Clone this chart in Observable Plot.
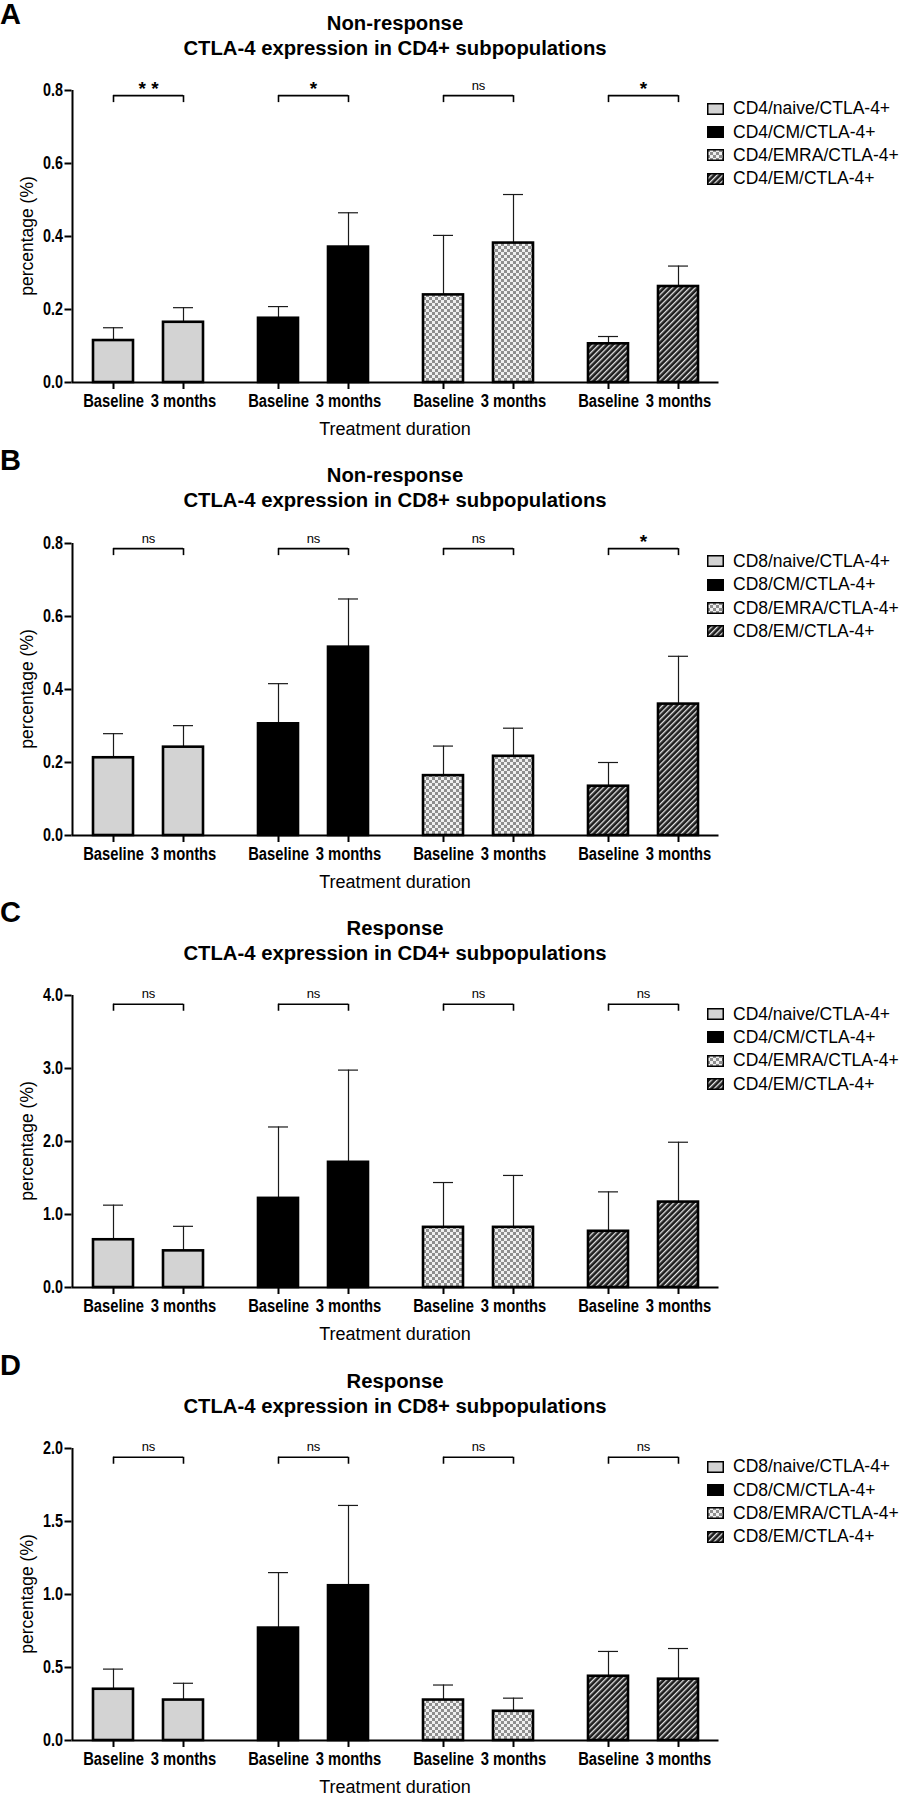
<!DOCTYPE html>
<html>
<head>
<meta charset="utf-8">
<script src="https://cdn.jsdelivr.net/npm/d3@7"></script>
<script src="https://cdn.jsdelivr.net/npm/@observablehq/plot@0.6"></script>
<style>
  html, body { margin: 0; padding: 0; background: #fff; }
  body { width: 907px; height: 1796px; position: relative; overflow: hidden;
         font-family: 'Liberation Sans', Arial, Helvetica, sans-serif; color: #000; }
  .panel { position: absolute; left: 0; width: 907px; height: 453px; }
  .letter { position: absolute; left: 0; font-weight: bold; font-size: 29px; line-height: 29px; }
  .title { position: absolute; left: 0; width: 790px; top: 10.5px; text-align: center;
           font-weight: bold; font-size: 20.3px; line-height: 25px; white-space: nowrap; }
  .xlabel { position: absolute; left: 0; width: 790px; top: 418px; text-align: center;
            font-size: 18px; line-height: 22px; }
  .ylabel { position: absolute; left: -73px; top: 226px; width: 200px; text-align: center;
            font-size: 17.5px; line-height: 20px; transform: rotate(-90deg); white-space: nowrap; }
  .plotwrap { position: absolute; left: 0; top: 60px; }
  .legend { position: absolute; left: 707px; top: 0; }
  .lrow { position: absolute; left: 0; height: 22px; white-space: nowrap; }
  .lrow svg { position: absolute; left: 0; top: 5.5px; }
  .lrow span { position: absolute; left: 26px; top: 0; font-size: 17.5px; line-height: 22px; }
  svg [aria-label="y-axis tick"] path { stroke-width: 2px; }
</style>
</head>
<body>
<svg width="0" height="0" style="position:absolute">
  <defs>
    <pattern id="pNaive" width="4" height="4" patternUnits="userSpaceOnUse">
      <rect width="4" height="4" fill="#d3d3d3"/>
    </pattern>
    <pattern id="pChecker" width="6" height="6" patternUnits="userSpaceOnUse">
      <rect width="6" height="6" fill="#f0f0f0"/>
      <rect width="3" height="3" fill="#8e8e8e"/>
      <rect x="3" y="3" width="3" height="3" fill="#8e8e8e"/>
    </pattern>
    <pattern id="pHatch" width="4" height="4" patternUnits="userSpaceOnUse" patternTransform="rotate(45)">
      <rect width="4" height="4" fill="#1e1e1e"/>
      <rect x="0" y="0" width="1.3" height="4" fill="#e6e6e6"/>
    </pattern>
  </defs>
</svg>
<script>
// ---------------- data ----------------
const groups = ["naive", "CM", "EMRA", "EM"];
const times = ["Baseline", "3 months"];
const groupFills = ["url(#pNaive)", "#000000", "url(#pChecker)", "url(#pHatch)"];

const panelLetters = ["A", "B", "C", "D"];
const panelTitles = ["Non-response", "Non-response", "Response", "Response"];
const panelSubtitles = [
  "CTLA-4 expression in CD4+ subpopulations",
  "CTLA-4 expression in CD8+ subpopulations",
  "CTLA-4 expression in CD4+ subpopulations",
  "CTLA-4 expression in CD8+ subpopulations"
];
const cellTypes = ["CD4", "CD8", "CD4", "CD8"];
const yMax = [0.8, 0.8, 4.0, 2.0];
const yTicks = [
  [0, 0.2, 0.4, 0.6, 0.8],
  [0, 0.2, 0.4, 0.6, 0.8],
  [0, 1, 2, 3, 4],
  [0, 0.5, 1, 1.5, 2]
];
const yLabel = "percentage (%)";
const xLabel = "Treatment duration";

// means per panel, order: naive, CM, EMRA, EM
const meanBaseline = [
  [0.115, 0.176, 0.240, 0.106],
  [0.213, 0.306, 0.164, 0.135],
  [0.654, 1.221, 0.824, 0.770],
  [0.351, 0.770, 0.277, 0.440]
];
const mean3Months = [
  [0.165, 0.371, 0.382, 0.263],
  [0.242, 0.516, 0.217, 0.360],
  [0.502, 1.715, 0.824, 1.170],
  [0.277, 1.060, 0.200, 0.420]
];
// standard deviations (upper error bar length)
const sdBaseline = [
  [0.035, 0.032, 0.163, 0.020],
  [0.066, 0.110, 0.081, 0.065],
  [0.474, 0.978, 0.614, 0.540],
  [0.138, 0.380, 0.103, 0.170]
];
const sd3Months = [
  [0.040, 0.094, 0.133, 0.056],
  [0.059, 0.132, 0.077, 0.131],
  [0.336, 1.263, 0.711, 0.820],
  [0.115, 0.550, 0.090, 0.210]
];
const significance = [
  ["**", "*", "ns", "*"],
  ["ns", "ns", "ns", "*"],
  ["ns", "ns", "ns", "ns"],
  ["ns", "ns", "ns", "ns"]
];
const bracketLevel = [0.786, 0.786, 3.88, 1.94];

// ---------------- layout ----------------
const W = 907, ML = 71.5, MR = 907 - 718.5, MT = 30, PH = 292, MB = 60;
const H = MT + PH + MB;
const padInner = 0.0788;
const step = (W - ML - MR) / (groups.length - padInner);
const bw = step * (1 - padInner);      // width of one group band
const off = 35;                        // bar centre offset from band centre
const barW = 40, capW = 20, drop = 7;
const panelStride = 452.7;
const NARROW_FACTOR = 0.82;            // emulate a condensed (narrow) bold face
const BOLD = "'Liberation Sans', Arial, Helvetica, sans-serif";
const SANS = "'Liberation Sans', Arial, Helvetica, sans-serif";

function condense(nodes) {
  nodes.forEach(t => {
    const w = t.getComputedTextLength();
    if (w > 0) {
      t.setAttribute("textLength", (w * NARROW_FACTOR).toFixed(2));
      t.setAttribute("lengthAdjust", "spacingAndGlyphs");
    }
  });
}

function makePanel(p) {
  const panel = document.createElement("div");
  panel.className = "panel";
  panel.style.top = (p * panelStride) + "px";
  document.body.appendChild(panel);

  const letter = document.createElement("div");
  letter.className = "letter";
  letter.style.top = (p === 0 ? 0 : -7) + "px";
  letter.textContent = panelLetters[p];
  panel.appendChild(letter);

  const title = document.createElement("div");
  title.className = "title";
  title.innerHTML = panelTitles[p] + "<br>" + panelSubtitles[p];
  panel.appendChild(title);

  const rows = [];
  groups.forEach((g, gi) => {
    rows.push({group: g, time: times[0], mean: meanBaseline[p][gi], sd: sdBaseline[p][gi]});
    rows.push({group: g, time: times[1], mean: mean3Months[p][gi], sd: sd3Months[p][gi]});
  });
  const base = rows.filter(d => d.time === times[0]);
  const late = rows.filter(d => d.time === times[1]);
  const brackets = groups.map((g, gi) => ({group: g, sig: significance[p][gi], lvl: bracketLevel[p]}));

  const marks = [];
  for (const [subset, sign] of [[base, -1], [late, 1]]) {
    const centre = bw / 2 + sign * off;
    marks.push(Plot.ruleX(subset, {x: "group", y1: "mean", y2: d => d.mean + d.sd, dx: sign * off,
      stroke: "#1a1a1a", strokeWidth: 1.2}));
    marks.push(Plot.tickY(subset, {x: "group", y: d => d.mean + d.sd,
      insetLeft: centre - capW / 2, insetRight: bw - centre - capW / 2, stroke: "#1a1a1a", strokeWidth: 1.2}));
    marks.push(Plot.barY(subset, {x: "group", y: "mean", fill: "group", stroke: "#000", strokeWidth: 2.6,
      insetLeft: centre - barW / 2, insetRight: bw - centre - barW / 2}));
    // x-axis ticks and labels
    marks.push(Plot.ruleX(subset, {x: "group", y1: 0, y2: 0, dx: sign * off, insetBottom: -drop,
      stroke: "#000", strokeWidth: 2}));
    marks.push(Plot.text(subset, {x: "group", y: 0, text: "time", dx: sign * off, dy: 19,
      lineAnchor: "middle", fontFamily: BOLD, fontWeight: "bold", fontSize: 18}));
    // bracket drops
    marks.push(Plot.ruleX(brackets, {x: "group", y1: "lvl", y2: "lvl", dx: sign * off, insetBottom: -drop,
      stroke: "#000", strokeWidth: 1.6}));
  }
  marks.push(Plot.tickY(brackets, {x: "group", y: "lvl", insetLeft: bw / 2 - off, insetRight: bw / 2 - off,
    stroke: "#000", strokeWidth: 1.6}));
  marks.push(Plot.text(brackets.filter(d => d.sig !== "ns"), {x: "group", y: "lvl",
    text: d => d.sig.split("").join(" "), dy: -1, lineAnchor: "bottom",
    fontFamily: SANS, fontWeight: "bold", fontSize: 19}));
  marks.push(Plot.text(brackets.filter(d => d.sig === "ns"), {x: "group", y: "lvl",
    text: "sig", dy: -6, lineAnchor: "bottom", fontFamily: SANS, fontWeight: "normal", fontSize: 13}));
  // axis lines
  marks.push(Plot.ruleY([0], {stroke: "#000", strokeWidth: 2}));
  marks.push(Plot.ruleX([groups[0]], {x: d => d, y1: 0, y2: yMax[p], dx: -bw / 2, stroke: "#000", strokeWidth: 2}));

  const chart = Plot.plot({
    width: W, height: H,
    marginLeft: ML, marginRight: MR, marginTop: MT, marginBottom: MB,
    style: {fontFamily: BOLD, fontSize: "17.5px", fontWeight: "bold", background: "transparent", overflow: "visible"},
    x: {type: "band", domain: groups, paddingInner: padInner, paddingOuter: 0, axis: null},
    y: {domain: [0, yMax[p]], ticks: yTicks[p], tickFormat: ".1f", tickSize: 7, tickPadding: 2, label: null},
    color: {type: "ordinal", domain: groups, range: groupFills},
    marks
  });
  const wrap = document.createElement("div");
  wrap.className = "plotwrap";
  wrap.appendChild(chart);
  panel.appendChild(wrap);

  // narrow the bold tick labels like the reference's condensed face
  condense(chart.querySelectorAll('g[aria-label="y-axis tick label"] text'));
  condense(Array.from(chart.querySelectorAll('g[aria-label="text"] text'))
    .filter(t => times.includes(t.textContent)));

  const xl = document.createElement("div");
  xl.className = "xlabel";
  xl.textContent = xLabel;
  panel.appendChild(xl);

  const yl = document.createElement("div");
  yl.className = "ylabel";
  yl.textContent = yLabel;
  panel.appendChild(yl);

  const legend = document.createElement("div");
  legend.className = "legend";
  groups.forEach((g, gi) => {
    const row = document.createElement("div");
    row.className = "lrow";
    row.style.top = (108.3 + gi * 23.3 - 11) + "px";
    row.innerHTML = `<svg width="17" height="12"><rect x="0.75" y="0.75" width="15.5" height="10.5" fill="${groupFills[gi]}" stroke="#000" stroke-width="1.5"/></svg><span>${cellTypes[p]}/${g}/CTLA-4+</span>`;
    legend.appendChild(row);
  });
  panel.appendChild(legend);
}

for (let p = 0; p < panelLetters.length; p++) makePanel(p);
</script>
</body>
</html>
